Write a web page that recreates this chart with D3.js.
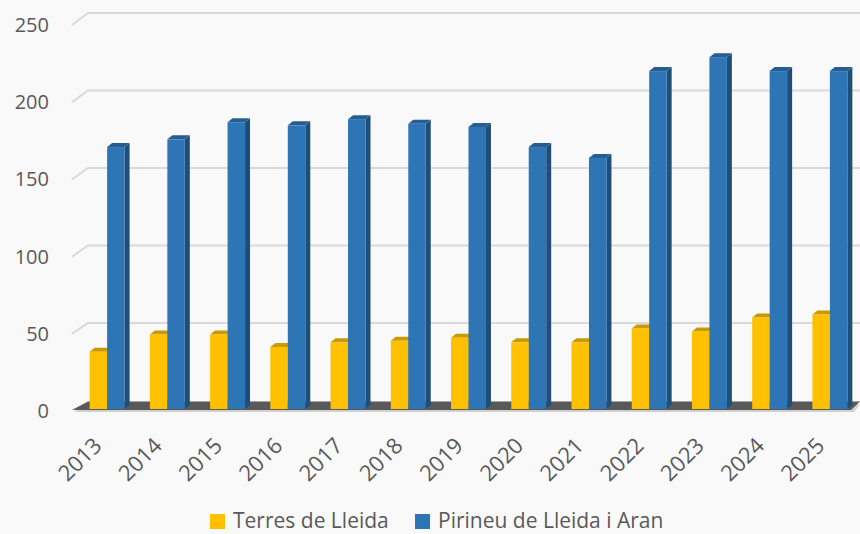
<!DOCTYPE html>
<html>
<head>
<meta charset="utf-8">
<script src="https://cdnjs.cloudflare.com/ajax/libs/d3/7.8.5/d3.min.js"></script>
<style>
  body { margin: 0; background: #f9f9f9; }
  text { font-family: "Open Sans", sans-serif; fill: #595959; }
</style>
</head>
<body>
<div id="chart-area"></div>
<script>
var years = ["2013", "2014", "2015", "2016", "2017", "2018", "2019", "2020", "2021", "2022", "2023", "2024", "2025"];
var terres = [37, 48, 48, 40, 43, 44, 46, 43, 43, 52, 50, 59, 61];
var pirineu = [169, 174, 185, 183, 187, 184, 182, 169, 162, 218, 227, 218, 218];
var yTicks = [0, 50, 100, 150, 200, 250];
var seriesNames = ["Terres de Lleida", "Pirineu de Lleida i Aran"];

var width = 860, height = 534;

var svg = d3.select("#chart-area")
    .append("svg")
    .attr("width", width)
    .attr("height", height);

svg.append("rect")
    .attr("width", width)
    .attr("height", height)
    .attr("fill", "#f9f9f9");

// depth offset of the 3d bars
var dx = 5, dy = -4;

// X Scale
var x = d3.scaleBand()
    .domain(years)
    .range([77, 860]);

// Y scales: back wall, front edge, bars
var yBack = d3.scaleLinear().domain([0, 250]).range([400.5, 13]);
var yFront = d3.scaleLinear().domain([0, 250]).range([411, 25]);
var y = d3.scaleLinear().domain([0, 250]).range([409, 21.5]);

// Gridlines
var grid = svg.append("g");
yTicks.filter(function(d) { return d > 0; }).forEach(function(d) {
    grid.append("path")
        .attr("d", "M72," + yFront(d) + "L88," + yBack(d) + "L860," + yBack(d))
        .attr("fill", "none")
        .attr("stroke", "#d9d9d9")
        .attr("stroke-width", 2);
});

// Y labels
svg.append("g").selectAll("text")
    .data(yTicks)
    .enter()
    .append("text")
    .attr("x", 49)
    .attr("y", function(d) { return yFront(d) + 7; })
    .attr("text-anchor", "end")
    .attr("font-size", "20px")
    .text(function(d) { return d; });

// Floor
svg.append("path")
    .attr("d", "M74,412L89,404L860,404L854,412Z")
    .attr("fill", "#d0d0d0");
svg.append("path")
    .attr("d", "M72,410L88,401.5L860,401.5L851,410Z")
    .attr("fill", "#595959");

// Bars
var barW = x.bandwidth() * 0.29;

function drawBar(g, x0, val, front, side, top) {
    var y0 = y(0), y1 = y(val);
    g.append("path")
        .attr("d", "M" + (x0 + barW) + "," + y1 + "L" + (x0 + barW + dx) + "," + (y1 + dy) +
            "L" + (x0 + barW + dx) + "," + (y0 + dy) + "L" + (x0 + barW) + "," + y0 + "Z")
        .attr("fill", side);
    g.append("path")
        .attr("d", "M" + x0 + "," + y1 + "L" + (x0 + dx) + "," + (y1 + dy) +
            "L" + (x0 + barW + dx) + "," + (y1 + dy) + "L" + (x0 + barW) + "," + y1 + "Z")
        .attr("fill", top);
    g.append("rect")
        .attr("x", x0)
        .attr("y", y1)
        .attr("width", barW)
        .attr("height", y0 - y1)
        .attr("fill", front);
}

var bars = svg.append("g");
years.forEach(function(yr, i) {
    var c = x(yr) + x.bandwidth() / 2;
    drawBar(bars, c - barW, terres[i], "#ffc000", "#bf9000", "#c89a00");
    drawBar(bars, c, pirineu[i], "#2e75b6", "#1f4e79", "#275d92");
});

// X labels
svg.append("g").selectAll("text")
    .data(years)
    .enter()
    .append("text")
    .attr("transform", function(d) {
        return "translate(" + (x(d) + x.bandwidth() / 2 - 4) + ",447) rotate(-45)";
    })
    .attr("text-anchor", "end")
    .attr("font-size", "22px")
    .text(function(d) { return d; });

// Legend
var legend = svg.append("g");
var legendX = [210, 415];
var legendColors = ["#ffc000", "#2e75b6"];
seriesNames.forEach(function(name, i) {
    legend.append("rect")
        .attr("x", legendX[i])
        .attr("y", 514)
        .attr("width", 15)
        .attr("height", 15)
        .attr("fill", legendColors[i]);
    legend.append("text")
        .attr("x", legendX[i] + 23)
        .attr("y", 528)
        .attr("font-size", "21px")
        .text(name);
});
</script>
</body>
</html>
